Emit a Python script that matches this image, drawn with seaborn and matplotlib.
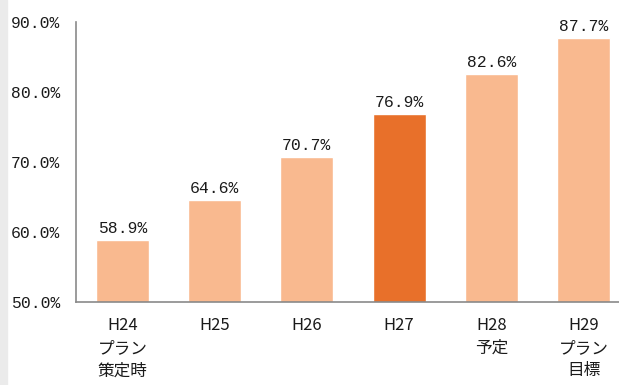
import matplotlib
matplotlib.use("Agg")
import matplotlib.pyplot as plt
import seaborn as sns
import pandas as pd

categories = ["H24\nプラン\n策定時", "H25", "H26", "H27", "H28\n予定", "H29\nプラン\n目標"]
values = [58.9, 64.6, 70.7, 76.9, 82.6, 87.7]
highlight = [False, False, False, True, False, False]
y_ticks = [50, 60, 70, 80, 90]

light = "#F9B98F"
dark = "#E8702A"
num_font = ["Liberation Mono"]

sns.set_theme(style="white")
plt.rcParams["font.family"] = ["Noto Sans CJK JP", "DejaVu Sans"]

df = pd.DataFrame({"cat": categories, "val": values,
                   "grp": ["hl" if h else "base" for h in highlight]})

fig = plt.figure(figsize=(6.19, 3.85), dpi=100)
fig.patches.append(plt.Rectangle((0, 0), 7 / 619, 1, transform=fig.transFigure,
                                 color="#EBEBEB", zorder=0))
ax = fig.add_axes([76.4 / 619, 1 - 302 / 385, 553.2 / 619, 280 / 385])

sns.barplot(data=df, x="cat", y="val", hue="grp", order=categories,
            palette={"base": light, "hl": dark}, width=0.575, dodge=False,
            legend=False, ax=ax, saturation=1)

for i, v in enumerate(values):
    ax.text(i, v + 1.0, f"{v:.1f}%", ha="center", va="baseline",
            fontsize=11.8, color="#1A1A1A", family=num_font)

ax.set_ylim(50, 90)
ax.set_yticks(y_ticks)
ax.set_yticklabels([f"{t:.1f}%" for t in y_ticks], family=num_font)
ax.set_xlim(-0.5, len(categories) - 0.5)
ax.set_xlabel("")
ax.set_ylabel("")
ax.tick_params(axis="y", length=0, pad=11.5, labelsize=11.8, labelcolor="#1A1A1A")
ax.tick_params(axis="x", length=0, pad=11, labelsize=12, labelcolor="#1A1A1A")
for lbl in ax.get_xticklabels():
    lbl.set_linespacing(1.42)

for s in ["top", "right"]:
    ax.spines[s].set_visible(False)
for s in ["left", "bottom"]:
    ax.spines[s].set_color("#8A8A8A")
    ax.spines[s].set_linewidth(1.2)

fig.savefig("out.png", dpi=100)
